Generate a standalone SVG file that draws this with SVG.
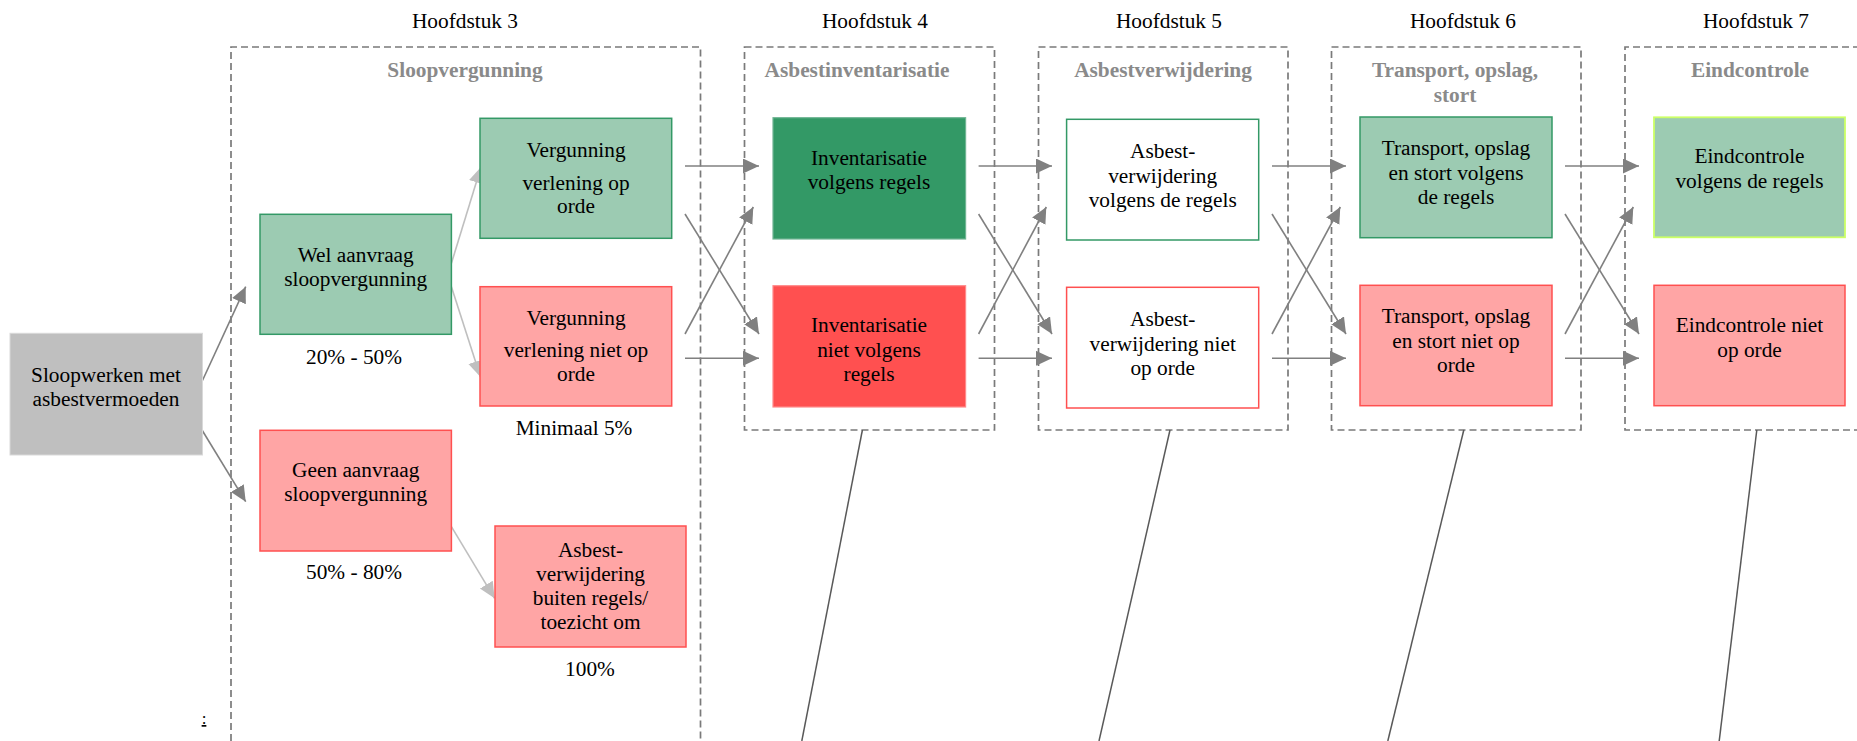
<svg xmlns="http://www.w3.org/2000/svg" width="1857" height="741" viewBox="0 0 1857 741">
<defs>
<marker id="ad" markerUnits="userSpaceOnUse" markerWidth="17" markerHeight="16" refX="16" refY="7.5" orient="auto"><path d="M0,0 L16,7.5 L0,15 z" fill="#808080"/></marker>
<marker id="al" markerUnits="userSpaceOnUse" markerWidth="17" markerHeight="16" refX="16" refY="7.5" orient="auto"><path d="M0,0 L16,7.5 L0,15 z" fill="#bfbfbf"/></marker>
<style>
text{font-family:"Liberation Serif","Times New Roman",serif;font-size:21.33px;fill:#000;text-anchor:middle}
.h{font-weight:bold;fill:#8a8a8a}
.cont{fill:none;stroke:#7a7a7a;stroke-width:1.7;stroke-dasharray:7 4}
.lg{fill:#9ccbb2;stroke:#339966;stroke-width:1.5}
.pk{fill:#ffa5a5;stroke:#ff5050;stroke-width:1.5}
.dg{fill:#339966;stroke:#70b593;stroke-width:1.2}
.rd{fill:#ff5050;stroke:#ff8a8a;stroke-width:1.2}
.wg{fill:#fff;stroke:#339966;stroke-width:1.5}
.wr{fill:#fff;stroke:#ff5050;stroke-width:1.5}
.gr{fill:#bfbfbf;stroke:#d9d9d9;stroke-width:1}
.ec{fill:#9ccbb2;stroke:#ccff66;stroke-width:1.8}
.cd{fill:none;stroke:#808080;stroke-width:1.6;marker-end:url(#ad)}
.cl{fill:none;stroke:#bfbfbf;stroke-width:1.6;marker-end:url(#al)}
.ld{fill:none;stroke:#595959;stroke-width:1.5}
</style>
</defs>

<g id="headings">
<text x="465" y="28">Hoofdstuk 3</text>
<text x="875" y="28">Hoofdstuk 4</text>
<text x="1169" y="28">Hoofdstuk 5</text>
<text x="1463" y="28">Hoofdstuk 6</text>
<text x="1756" y="28">Hoofdstuk 7</text>
</g>

<g id="containers">
<g id="c-sloopvergunning"><path class="cont" d="M231,741 V47 H700.5 V741"/><text class="h" x="465" y="77">Sloopvergunning</text></g>
<g id="c-asbestinventarisatie"><rect class="cont" x="744.5" y="47" width="250" height="383"/><text class="h" x="857" y="77">Asbestinventarisatie</text></g>
<g id="c-asbestverwijdering"><rect class="cont" x="1038.5" y="47" width="249.5" height="383"/><text class="h" x="1163" y="77">Asbestverwijdering</text></g>
<g id="c-transport"><rect class="cont" x="1331.5" y="47" width="249.5" height="383"/><text class="h" x="1455" y="77">Transport, opslag,</text><text class="h" x="1455" y="102">stort</text></g>
<g id="c-eindcontrole"><path class="cont" d="M1860,47 H1625 V430 H1860"/><text class="h" x="1750" y="77">Eindcontrole</text></g>
</g>

<g id="connectors">
<line class="cd" x1="202" y1="381.5" x2="245.7" y2="286.7"/>
<line class="cd" x1="202" y1="430" x2="245.7" y2="501.7"/>
<line class="cl" x1="451.4" y1="263.3" x2="481" y2="167"/>
<line class="cl" x1="451.4" y1="286.7" x2="480.5" y2="377"/>
<line class="cl" x1="451.4" y1="526.7" x2="494.6" y2="598.3"/>

<line class="cd" x1="685" y1="166" x2="759" y2="166"/>
<line class="cd" x1="685" y1="214" x2="759" y2="334"/>
<line class="cd" x1="685" y1="334" x2="753.3" y2="207"/>
<line class="cd" x1="685" y1="358.3" x2="759" y2="358.3"/>

<line class="cd" x1="978.6" y1="166" x2="1052" y2="166"/>
<line class="cd" x1="978.6" y1="214" x2="1052" y2="334"/>
<line class="cd" x1="978.6" y1="334" x2="1046.3" y2="207"/>
<line class="cd" x1="978.6" y1="358.3" x2="1052" y2="358.3"/>

<line class="cd" x1="1272" y1="166" x2="1346" y2="166"/>
<line class="cd" x1="1272" y1="214" x2="1346" y2="334"/>
<line class="cd" x1="1272" y1="334" x2="1340.3" y2="207"/>
<line class="cd" x1="1272" y1="358.3" x2="1346" y2="358.3"/>

<line class="cd" x1="1565" y1="166" x2="1639" y2="166"/>
<line class="cd" x1="1565" y1="214" x2="1639" y2="334"/>
<line class="cd" x1="1565" y1="334" x2="1633.3" y2="207"/>
<line class="cd" x1="1565" y1="358.3" x2="1639" y2="358.3"/>

<line class="ld" x1="862.4" y1="430" x2="801.8" y2="741"/>
<line class="ld" x1="1170" y1="430" x2="1099" y2="741"/>
<line class="ld" x1="1463.8" y1="430" x2="1387.8" y2="741"/>
<line class="ld" x1="1756.8" y1="430" x2="1719.2" y2="741"/>
</g>

<g id="n-sloopwerken"><rect class="gr" x="10" y="333.3" width="192.5" height="121.7"/><text x="106" y="381.7">Sloopwerken met</text><text x="106" y="406">asbestvermoeden</text></g>
<g id="n-wel"><rect class="lg" x="260" y="214.3" width="191.4" height="120"/><text x="355.7" y="262">Wel aanvraag</text><text x="355.7" y="285.5">sloopvergunning</text></g>
<g id="l-20-50"><text x="354" y="364">20% - 50%</text></g>
<g id="n-geen"><rect class="pk" x="260" y="430.3" width="191.4" height="120.7"/><text x="355.7" y="477">Geen aanvraag</text><text x="355.7" y="501">sloopvergunning</text></g>
<g id="l-50-80"><text x="354" y="579">50% - 80%</text></g>
<g id="n-verg-ok"><rect class="lg" x="480" y="118.3" width="191.7" height="120"/><text x="576" y="156.7">Vergunning</text><text x="576" y="190">verlening op</text><text x="576" y="213.3">orde</text></g>
<g id="n-verg-niet"><rect class="pk" x="480" y="286.7" width="191.7" height="119.3"/><text x="576" y="325">Vergunning</text><text x="576" y="356.7">verlening niet op</text><text x="576" y="380.7">orde</text></g>
<g id="l-min5"><text x="574" y="435">Minimaal 5%</text></g>
<g id="n-buiten"><rect class="pk" x="495" y="526" width="191" height="121"/><text x="590.5" y="557">Asbest-</text><text x="590.5" y="580.5">verwijdering</text><text x="590.5" y="605">buiten regels/</text><text x="590.5" y="629">toezicht om</text></g>
<g id="l-100"><text x="590" y="676">100%</text></g>
<g id="l-colon"><text x="204" y="724" style="font-size:17px;text-decoration:underline">:</text></g>

<g id="n-inv-ok"><rect class="dg" x="773" y="117.7" width="192.6" height="121.3"/><text x="869" y="165">Inventarisatie</text><text x="869" y="189">volgens regels</text></g>
<g id="n-inv-niet"><rect class="rd" x="773" y="285.7" width="192.6" height="121.3"/><text x="869" y="332">Inventarisatie</text><text x="869" y="357">niet volgens</text><text x="869" y="381">regels</text></g>

<g id="n-verw-ok"><rect class="wg" x="1066.6" y="119.3" width="192.1" height="120.7"/><text x="1162.7" y="158">Asbest-</text><text x="1162.7" y="183">verwijdering</text><text x="1162.7" y="207">volgens de regels</text></g>
<g id="n-verw-niet"><rect class="wr" x="1066.6" y="287.3" width="192.1" height="120.7"/><text x="1162.7" y="326">Asbest-</text><text x="1162.7" y="351">verwijdering niet</text><text x="1162.7" y="375">op orde</text></g>

<g id="n-trans-ok"><rect class="lg" x="1360" y="117" width="192" height="120.7"/><text x="1456" y="155">Transport, opslag</text><text x="1456" y="180">en stort volgens</text><text x="1456" y="204">de regels</text></g>
<g id="n-trans-niet"><rect class="pk" x="1360" y="285.3" width="192" height="120.4"/><text x="1456" y="323">Transport, opslag</text><text x="1456" y="348">en stort niet op</text><text x="1456" y="372">orde</text></g>

<g id="n-eind-ok"><rect class="ec" x="1654" y="117.3" width="191" height="120"/><text x="1749.5" y="163">Eindcontrole</text><text x="1749.5" y="188">volgens de regels</text></g>
<g id="n-eind-niet"><rect class="pk" x="1654" y="285.3" width="191" height="120.4"/><text x="1749.5" y="332">Eindcontrole niet</text><text x="1749.5" y="357">op orde</text></g>
</svg>
